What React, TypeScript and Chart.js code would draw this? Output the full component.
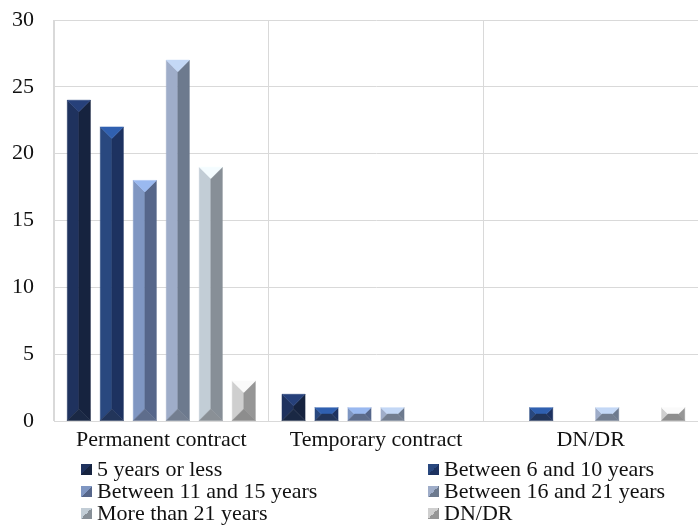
import React, { useEffect, useRef } from "react";
import { Chart, registerables } from "chart.js";

Chart.register(...registerables);

// Categories along the x axis
const categories = ["Permanent contract", "Temporary contract", "DN/DR"];

// Series names (length of service)
const seriesNames = [
  "5 years or less",
  "Between 6 and 10 years",
  "Between 11 and 15 years",
  "Between 16 and 21 years",
  "More than 21 years",
  "DN/DR",
];

// Counts per series, one value per category
const fiveOrLess = [24, 2, 0];
const sixToTen = [22, 1, 1];
const elevenToFifteen = [18, 1, 0];
const sixteenToTwentyOne = [27, 1, 1];
const moreThanTwentyOne = [19, 0, 0];
const dnDr = [3, 0, 1];

const seriesValues = [fiveOrLess, sixToTen, elevenToFifteen, sixteenToTwentyOne, moreThanTwentyOne, dnDr];

// Bevel face colours per series: left, right, top, bottom
const faceColors = [
  ["#1f325e", "#16233f", "#26407a", "#1a2844"],
  ["#29487f", "#1d3260", "#3060b0", "#22355a"],
  ["#7f96c2", "#56668a", "#9ab9f0", "#5e6d8c"],
  ["#9fadc9", "#6d7a8e", "#c4d8f6", "#737e90"],
  ["#c2cdd6", "#878f97", "#f4fcff", "#8a9096"],
  ["#cfcfcf", "#969696", "#fafafa", "#8d8d8d"],
];

const FONT = '"Liberation Serif", "DejaVu Serif", serif';
const FONT_SIZE = 22;
const TEXT_COLOR = "#111";

// Legend grid: two columns, three rows
const legendMarkerX = [81, 428];
const legendRowY = [469, 491, 513];

function drawBevel(ctx: CanvasRenderingContext2D, L: number, T: number, R: number, B: number, c: string[]) {
  const w = R - L;
  const h = B - T;
  if (w <= 0 || h <= 0) return;
  const b = Math.min(w / 2, h / 2);
  const iL = L + b, iR = R - b, iT = T + b, iB = B - b;
  const poly = (pts: number[][], col: string) => {
    ctx.beginPath();
    ctx.moveTo(pts[0][0], pts[0][1]);
    for (let i = 1; i < pts.length; i++) ctx.lineTo(pts[i][0], pts[i][1]);
    ctx.closePath();
    ctx.fillStyle = col;
    ctx.fill();
    ctx.strokeStyle = col;
    ctx.lineWidth = 0.5;
    ctx.stroke();
  };
  poly([[L, T], [iL, iT], [iL, iB], [L, B]], c[0]); // left face
  poly([[R, T], [iR, iT], [iR, iB], [R, B]], c[1]); // right face
  poly([[L, T], [R, T], [iR, iT], [iL, iT]], c[2]); // top face
  poly([[L, B], [R, B], [iR, iB], [iL, iB]], c[3]); // bottom face
}

const bevelBars = {
  id: "bevelBars",
  afterDatasetsDraw(chart: any) {
    const ctx = chart.ctx as CanvasRenderingContext2D;
    ctx.save();
    chart.data.datasets.forEach((_ds: any, di: number) => {
      const meta = chart.getDatasetMeta(di);
      meta.data.forEach((el: any) => {
        const p = el.getProps(["x", "y", "base", "width"], true);
        drawBevel(
          ctx,
          p.x - p.width / 2,
          Math.min(p.y, p.base),
          p.x + p.width / 2,
          Math.max(p.y, p.base),
          faceColors[di]
        );
      });
    });
    ctx.restore();
  },
};

function Legend() {
  return (
    <div style={{ position: "fixed", left: 0, top: 0, width: 698, height: 531, pointerEvents: "none", zIndex: 2 }}>
      {seriesNames.map((name, i) => {
        const mx = legendMarkerX[i % 2];
        const my = legendRowY[Math.floor(i / 2)];
        const c = faceColors[i];
        return (
          <React.Fragment key={name}>
            <div
              style={{
                position: "absolute",
                left: mx,
                top: my - 5.5,
                width: 11,
                height: 11,
                background: `linear-gradient(to bottom right, ${c[0]} 50%, ${c[1]} 50%)`,
              }}
            />
            <div
              style={{
                position: "absolute",
                left: mx + 16,
                top: my - 13,
                height: 26,
                lineHeight: "26px",
                fontFamily: "Liberation Serif",
                fontSize: FONT_SIZE,
                color: TEXT_COLOR,
                whiteSpace: "nowrap",
              }}
            >
              {name}
            </div>
          </React.Fragment>
        );
      })}
    </div>
  );
}

export default function App() {
  const ref = useRef<HTMLCanvasElement | null>(null);

  useEffect(() => {
    if (!ref.current) return;
    const chart = new Chart(ref.current, {
      type: "bar",
      data: {
        labels: categories,
        datasets: seriesNames.map((name, i) => ({
          label: name,
          data: seriesValues[i],
          backgroundColor: "rgba(0,0,0,0)",
          borderWidth: 0,
          categoryPercentage: 0.922,
          barPercentage: 0.7,
        })),
      },
      options: {
        responsive: false,
        animation: false,
        devicePixelRatio: 1,
        layout: { padding: { top: 20, right: 0, bottom: 80, left: 0 } },
        plugins: {
          legend: { display: false },
          tooltip: { enabled: false },
        },
        scales: {
          x: {
            grid: { color: "#d9d9d9", drawTicks: false, offset: true },
            border: { color: "#d9d9d9" },
            ticks: {
              color: TEXT_COLOR,
              font: { family: FONT, size: FONT_SIZE },
              padding: 6,
              maxRotation: 0,
            },
            afterFit(s: any) {
              s.height = 30;
            },
          },
          y: {
            min: 0,
            max: 30,
            grid: { color: "#d9d9d9", drawTicks: false },
            border: { color: "#d9d9d9" },
            ticks: {
              stepSize: 5,
              color: TEXT_COLOR,
              font: { family: FONT, size: FONT_SIZE },
              padding: 20,
            },
            afterFit(s: any) {
              s.width = 54;
              s.paddingTop = 12;
              s.paddingBottom = 12;
            },
          },
        },
      },
      plugins: [bevelBars],
    });
    const fonts = (document as any).fonts;
    if (fonts && fonts.ready) {
      fonts.ready.then(() => chart.update());
    }
    return () => chart.destroy();
  }, []);

  return (
    <div>
      <canvas
        ref={ref}
        width={698}
        height={531}
        style={{ position: "fixed", left: 0, top: 0, width: 698, height: 531, background: "#fff" }}
      />
      <Legend />
    </div>
  );
}
